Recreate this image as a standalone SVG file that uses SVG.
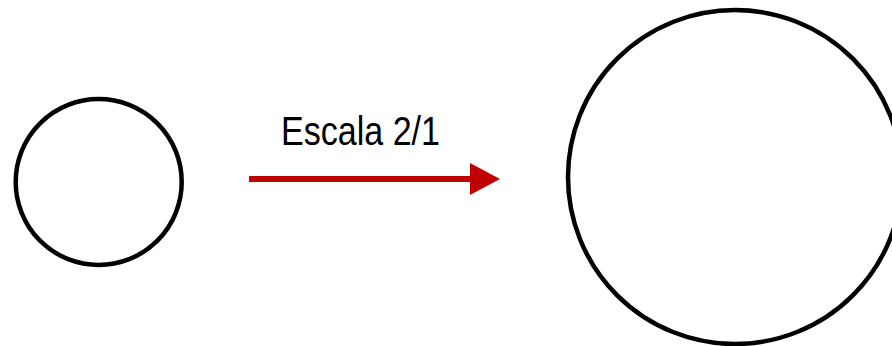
<svg xmlns="http://www.w3.org/2000/svg" width="892" height="346" viewBox="0 0 892 346">
  <style>
    .shape { fill: #ffffff; stroke: #000000; stroke-width: 4.5; }
    .conn { stroke: #c00000; stroke-width: 6; fill: none; }
    .label { font-family: "Liberation Sans", Arial, sans-serif; font-size: 40px; fill: #000000; }
  </style>
  <defs>
    <marker id="arrowhead" markerUnits="userSpaceOnUse" markerWidth="30" markerHeight="32" refX="0" refY="16" orient="auto">
      <path d="M0,0 L30,16 L0,32 Z" fill="#c00000"/>
    </marker>
  </defs>
  <rect width="892" height="346" fill="#ffffff"/>
  <g id="small-circle">
    <circle class="shape" cx="98.7" cy="182" r="83"/>
  </g>
  <g id="large-circle">
    <circle class="shape" cx="735" cy="177" r="167"/>
  </g>
  <g id="connectors">
    <line class="conn" x1="249" y1="179" x2="470" y2="179" marker-end="url(#arrowhead)"/>
    <text class="label" x="281" y="145" textLength="159" lengthAdjust="spacingAndGlyphs">Escala 2/1</text>
  </g>
</svg>
